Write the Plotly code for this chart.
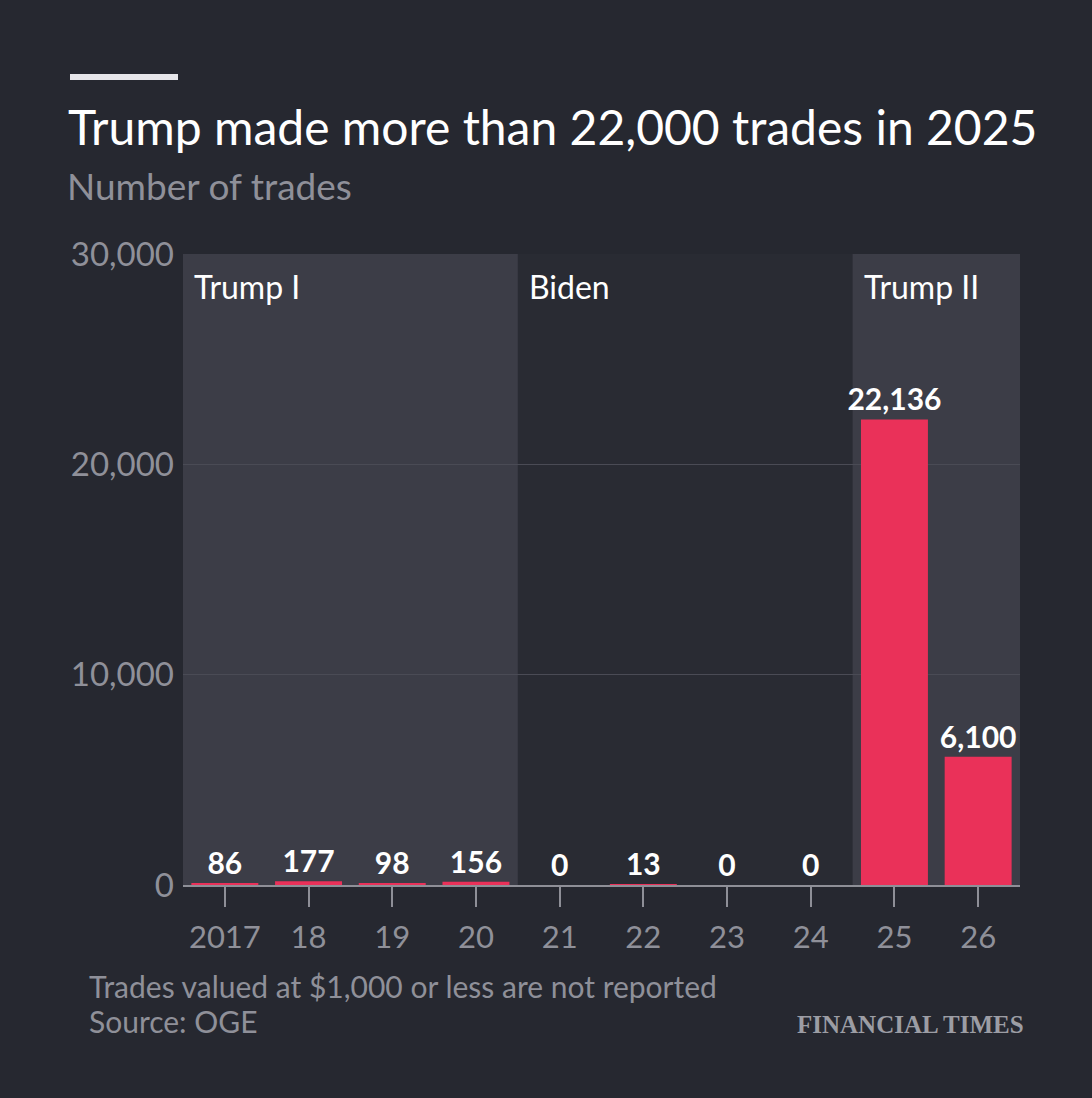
import plotly.graph_objects as go

# ==============================================================
# Data
# ==============================================================
years = ["2017", "18", "19", "20", "21", "22", "23", "24", "25", "26"]
trades = [86, 177, 98, 156, 0, 13, 0, 0, 22136, 6100]

periods = ["Trump I", "Biden", "Trump II"]
period_start = [0, 4, 8]   # index of first year in each term
period_end = [3, 7, 9]     # index of last year in each term
period_shaded = [True, False, True]

y_ticks = [0, 10000, 20000, 30000]

# ==============================================================
# Styling
# ==============================================================
BG = "#262830"
PLOT_BG = "#292b33"
SHADE = "#3c3d47"
BAR = "#ea3159"
GRID = "#4a4b55"
MUTED = "#8f9099"
FONT = "Lato"

W, H = 1092, 1098
L, R, T, B = 183, 72, 254, 213


def px_x(px):
    return (px - L) / (W - L - R)


def px_y(py):
    return (H - B - py) / (H - T - B)


fig = go.Figure()

fig.add_trace(go.Bar(
    x=years,
    y=trades,
    marker=dict(color=BAR, line=dict(width=0)),
    texttemplate="%{y:,}",
    textposition="outside",
    constraintext="none",
    textfont=dict(family=FONT, size=30, color="white", weight="bold"),
    cliponaxis=False,
    hoverinfo="skip",
))

# shaded term backgrounds + labels
for name, s, e, shaded in zip(periods, period_start, period_end, period_shaded):
    if shaded:
        fig.add_shape(
            type="rect", xref="x", yref="paper",
            x0=s - 0.5, x1=e + 0.5, y0=0, y1=1,
            fillcolor=SHADE, line=dict(width=0), layer="between",
        )
    fig.add_annotation(
        x=s - 0.5, y=1, xref="x", yref="paper",
        xanchor="left", yanchor="top", xshift=9, yshift=-11,
        text=name, showarrow=False,
        font=dict(family=FONT, size=32, color="white"),
    )

# top decoration line
fig.add_shape(type="line", xref="paper", yref="paper",
              x0=px_x(70), x1=px_x(178), y0=px_y(77), y1=px_y(77),
              line=dict(color="#e6e6ea", width=6))

fig.add_annotation(x=px_x(66), y=px_y(126), xref="paper", yref="paper",
                   xanchor="left", yanchor="middle", showarrow=False,
                   text="Trump made more than 22,000 trades in 2025",
                   font=dict(family=FONT, size=48, color="white"))
fig.add_annotation(x=px_x(65), y=px_y(186), xref="paper", yref="paper",
                   xanchor="left", yanchor="middle", showarrow=False,
                   text="Number of trades",
                   font=dict(family=FONT, size=37, color=MUTED))
fig.add_annotation(x=px_x(87), y=px_y(986), xref="paper", yref="paper",
                   xanchor="left", yanchor="middle", showarrow=False,
                   text="Trades valued at $1,000 or less are not reported",
                   font=dict(family=FONT, size=30, color=MUTED))
fig.add_annotation(x=px_x(87), y=px_y(1021), xref="paper", yref="paper",
                   xanchor="left", yanchor="middle", showarrow=False,
                   text="Source: OGE",
                   font=dict(family=FONT, size=30, color=MUTED))
fig.add_annotation(x=px_x(1026), y=px_y(1024), xref="paper", yref="paper",
                   xanchor="right", yanchor="middle", showarrow=False,
                   text="FINANCIAL TIMES",
                   font=dict(family="Liberation Serif", size=25, color="#9c9da4",
                             weight="bold"))

fig.update_layout(
    width=W, height=H,
    margin=dict(l=L, r=R, t=T, b=B),
    paper_bgcolor=BG,
    plot_bgcolor=PLOT_BG,
    showlegend=False,
    bargap=0.2,
    font=dict(family=FONT, color=MUTED),
)

fig.update_xaxes(
    type="category",
    showgrid=False,
    showline=True, linecolor="#8e8f97", linewidth=2,
    ticks="outside", ticklen=20, tickwidth=2, tickcolor="#8e8f97",
    ticklabelstandoff=4,
    tickfont=dict(family=FONT, size=31, color=MUTED),
    fixedrange=True,
)
fig.update_yaxes(
    range=[0, 30000],
    tickvals=y_ticks,
    tickformat=",",
    showgrid=True, gridcolor=GRID, gridwidth=1,
    zeroline=False,
    showline=False,
    ticks="",
    ticklabelstandoff=8,
    tickfont=dict(family=FONT, size=33, color=MUTED),
    fixedrange=True,
)

fig.write_html(
    "out.html",
    config={"displayModeBar": False},
    post_script="document.body.style.margin='0';"
                "document.body.style.background='" + BG + "';",
)
